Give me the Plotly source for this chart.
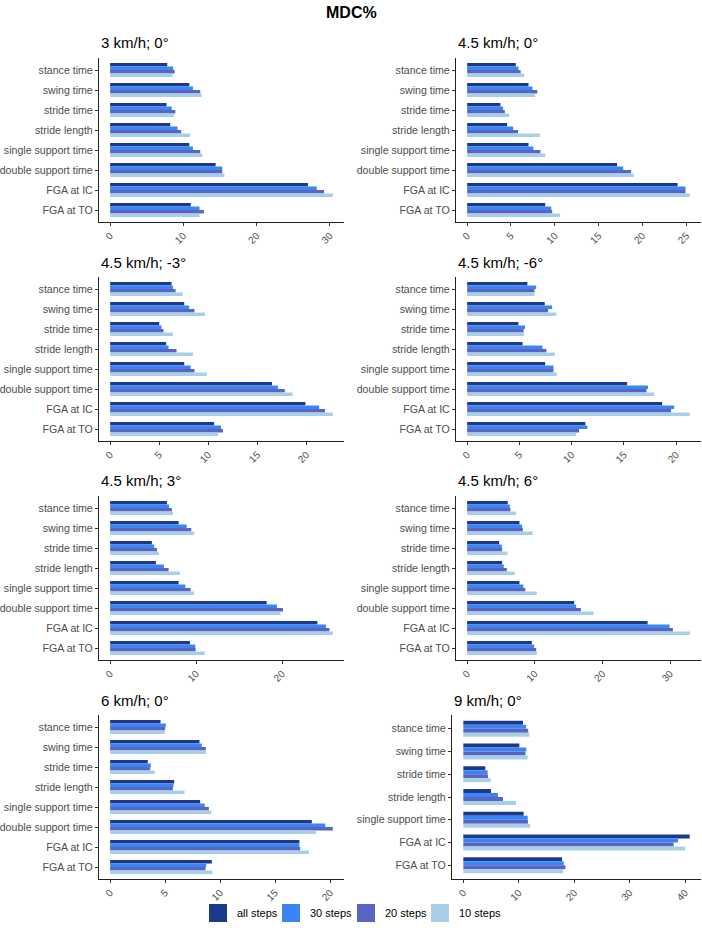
import plotly.graph_objects as go

# ---------------- data ----------------
categories = ["stance time", "swing time", "stride time", "stride length",
              "single support time", "double support time", "FGA at IC", "FGA at TO"]
categories_9kmh = ["stance time", "swing time", "stride time", "stride length",
                   "single support time", "FGA at IC", "FGA at TO"]

series_names = ["all steps", "30 steps", "20 steps", "10 steps"]
series_colors = ["#1c3a8c", "#3a85f5", "#5a65bf", "#a7d0e8"]

panel_titles = ["3 km/h; 0°", "4.5 km/h; 0°", "4.5 km/h; -3°", "4.5 km/h; -6°",
                "4.5 km/h; 3°", "4.5 km/h; 6°", "6 km/h; 0°", "9 km/h; 0°"]

# 3 km/h; 0°
v3_0_all = [7.8, 10.8, 7.7, 8.2, 10.8, 14.4, 27.0, 11.0]
v3_0_30 = [8.6, 11.3, 8.4, 9.2, 11.3, 15.3, 28.2, 12.2]
v3_0_20 = [8.8, 12.3, 8.9, 9.7, 12.3, 15.3, 29.2, 12.8]
v3_0_10 = [8.5, 12.5, 8.7, 10.9, 12.6, 15.6, 30.4, 12.2]
# 4.5 km/h; 0°
v45_0_all = [5.55, 7.0, 3.8, 4.55, 7.0, 17.1, 24.0, 8.9]
v45_0_30 = [5.85, 7.45, 4.1, 5.25, 7.55, 17.8, 24.9, 9.6]
v45_0_20 = [6.1, 8.0, 4.3, 5.8, 8.35, 18.7, 24.9, 9.7]
v45_0_10 = [6.5, 7.75, 4.8, 8.3, 8.9, 19.0, 25.4, 10.6]
# 4.5 km/h; -3°
v45_m3_all = [6.26, 7.55, 5.0, 5.71, 7.55, 16.5, 19.9, 10.6]
v45_m3_30 = [6.4, 8.06, 5.24, 5.95, 8.2, 17.1, 21.3, 11.3]
v45_m3_20 = [6.67, 8.6, 5.44, 6.77, 8.6, 17.8, 21.9, 11.5]
v45_m3_10 = [7.4, 9.66, 6.4, 8.44, 9.86, 18.6, 22.7, 11.0]
# 4.5 km/h; -6°
v45_m6_all = [5.76, 7.42, 4.9, 5.3, 7.46, 15.3, 18.65, 11.3]
v45_m6_30 = [6.6, 8.13, 5.54, 7.2, 8.26, 17.3, 19.8, 11.5]
v45_m6_20 = [6.43, 7.74, 5.4, 7.58, 8.26, 17.15, 19.5, 10.7]
v45_m6_10 = [6.46, 8.54, 5.44, 8.38, 8.58, 17.9, 21.3, 10.4]
# 4.5 km/h; 3°
v45_p3_all = [6.6, 7.96, 4.85, 5.32, 7.96, 18.2, 24.1, 9.28]
v45_p3_30 = [6.87, 8.9, 5.13, 6.25, 8.74, 19.4, 25.1, 9.9]
v45_p3_20 = [7.18, 9.44, 5.44, 6.8, 9.36, 20.1, 25.5, 9.94]
v45_p3_10 = [7.3, 9.79, 5.67, 8.1, 9.75, 19.8, 25.9, 11.0]
# 4.5 km/h; 6°
v45_p6_all = [6.0, 7.73, 4.73, 5.17, 7.73, 15.8, 26.65, 9.56]
v45_p6_30 = [6.3, 8.13, 5.12, 5.42, 8.3, 16.1, 29.9, 9.9]
v45_p6_20 = [6.4, 8.23, 5.17, 5.86, 8.6, 16.8, 30.4, 10.2]
v45_p6_10 = [7.2, 9.66, 5.96, 7.04, 10.3, 18.7, 32.9, 10.3]
# 6 km/h; 0°
v6_0_all = [4.58, 8.12, 3.42, 5.82, 8.18, 18.33, 17.2, 9.24]
v6_0_30 = [5.06, 8.33, 3.7, 5.76, 8.6, 19.55, 17.2, 8.73]
v6_0_20 = [5.0, 8.7, 3.64, 5.7, 8.97, 20.24, 17.27, 8.67]
v6_0_10 = [4.97, 8.7, 4.06, 6.76, 9.18, 18.7, 18.06, 9.3]
# 9 km/h; 0°
v9_0_all = [10.75, 10.1, 3.96, 4.98, 10.87, 40.8, 17.8]
v9_0_30 = [11.3, 11.35, 4.38, 6.25, 11.6, 38.7, 18.1]
v9_0_20 = [11.7, 11.2, 4.44, 7.15, 11.65, 37.9, 18.4]
v9_0_10 = [11.9, 11.6, 4.92, 9.5, 12.07, 40.0, 18.0]

x_dticks = [10, 5, 5, 5, 10, 10, 5, 10]

# ---------------- layout helpers ----------------
W, H = 702, 928

panel_values = [
    [v3_0_all, v3_0_30, v3_0_20, v3_0_10],
    [v45_0_all, v45_0_30, v45_0_20, v45_0_10],
    [v45_m3_all, v45_m3_30, v45_m3_20, v45_m3_10],
    [v45_m6_all, v45_m6_30, v45_m6_20, v45_m6_10],
    [v45_p3_all, v45_p3_30, v45_p3_20, v45_p3_10],
    [v45_p6_all, v45_p6_30, v45_p6_20, v45_p6_10],
    [v6_0_all, v6_0_30, v6_0_20, v6_0_10],
    [v9_0_all, v9_0_30, v9_0_20, v9_0_10],
]
panel_cats = [categories] * 7 + [categories_9kmh]

# pixel boxes (left, right, top, bottom)
col_x = [(99, 344), (456, 701)]
row_y = [(58, 222), (277, 441), (496, 660), (715, 879)]

fig = go.Figure()
layout_axes = {}
annotations = []
shapes = []

for i in range(8):
    r, c = divmod(i, 2)
    xl, xr = col_x[c]
    if i == 7:
        xl = 452
    yt, yb = row_y[r]
    cats = panel_cats[i]
    vals = panel_values[i]
    ax = "" if i == 0 else str(i + 1)
    for s in range(4):
        fig.add_trace(go.Bar(
            x=vals[s], y=cats, orientation="h",
            name=series_names[s], marker=dict(color=series_colors[s], line=dict(width=0)),
            xaxis="x" + ax, yaxis="y" + ax,
            legendgroup=series_names[s], showlegend=False,
        ))
    vmax = max(max(v) for v in vals)
    n = len(cats)
    layout_axes["xaxis" + ax] = dict(
        domain=[xl / W, xr / W], anchor="y" + ax,
        range=[-0.05 * vmax, 1.05 * vmax], dtick=x_dticks[i], tick0=0,
        showgrid=False, zeroline=False, showline=True, linecolor="#222", linewidth=1.2,
        ticks="outside", ticklen=3, tickcolor="#333", tickangle=-45,
        tickfont=dict(size=10, color="#4d4d4d"),
    )
    layout_axes["yaxis" + ax] = dict(
        domain=[1 - yb / H, 1 - yt / H], anchor="x" + ax,
        type="category", categoryorder="array", categoryarray=cats,
        range=[n - 0.4, -0.6],
        showgrid=False, zeroline=False, showline=True, linecolor="#222", linewidth=1.2,
        ticks="outside", ticklen=3, tickcolor="#333",
        tickfont=dict(size=10.6, color="#4d4d4d"),
    )
    annotations.append(dict(
        text=panel_titles[i], xref="paper", yref="paper",
        x=xl / W, y=1 - (yt - 15) / H, xanchor="left", yanchor="middle",
        showarrow=False, font=dict(size=15, color="#000"),
    ))

annotations.append(dict(
    text="<b>MDC%</b>", xref="paper", yref="paper", x=0.5, y=1 - 13 / H,
    xanchor="center", yanchor="middle", showarrow=False,
    font=dict(size=16, color="#000"),
))

# legend (keys drawn as squares, ggplot-style)
legend_key_x = [209, 282, 357, 431]
legend_y_center = 913
key = 18
for s in range(4):
    x0 = legend_key_x[s]
    shapes.append(dict(
        type="rect", xref="paper", yref="paper",
        x0=x0 / W, x1=(x0 + key) / W,
        y0=1 - (legend_y_center + key / 2) / H, y1=1 - (legend_y_center - key / 2) / H,
        fillcolor=series_colors[s], line=dict(width=0),
    ))
    annotations.append(dict(
        text=series_names[s], xref="paper", yref="paper",
        x=(x0 + key + 8) / W, y=1 - legend_y_center / H,
        xanchor="left", yanchor="middle", showarrow=False,
        font=dict(size=11, color="#000"),
    ))

fig.update_layout(
    width=W, height=H,
    margin=dict(l=0, r=0, t=0, b=0),
    paper_bgcolor="white", plot_bgcolor="white",
    font=dict(family="Liberation Sans, Arial, sans-serif", color="#000"),
    barmode="group", bargap=0.3, bargroupgap=0,
    annotations=annotations, shapes=shapes,
    showlegend=False,
    **layout_axes,
)

fig.write_html("out.html")
